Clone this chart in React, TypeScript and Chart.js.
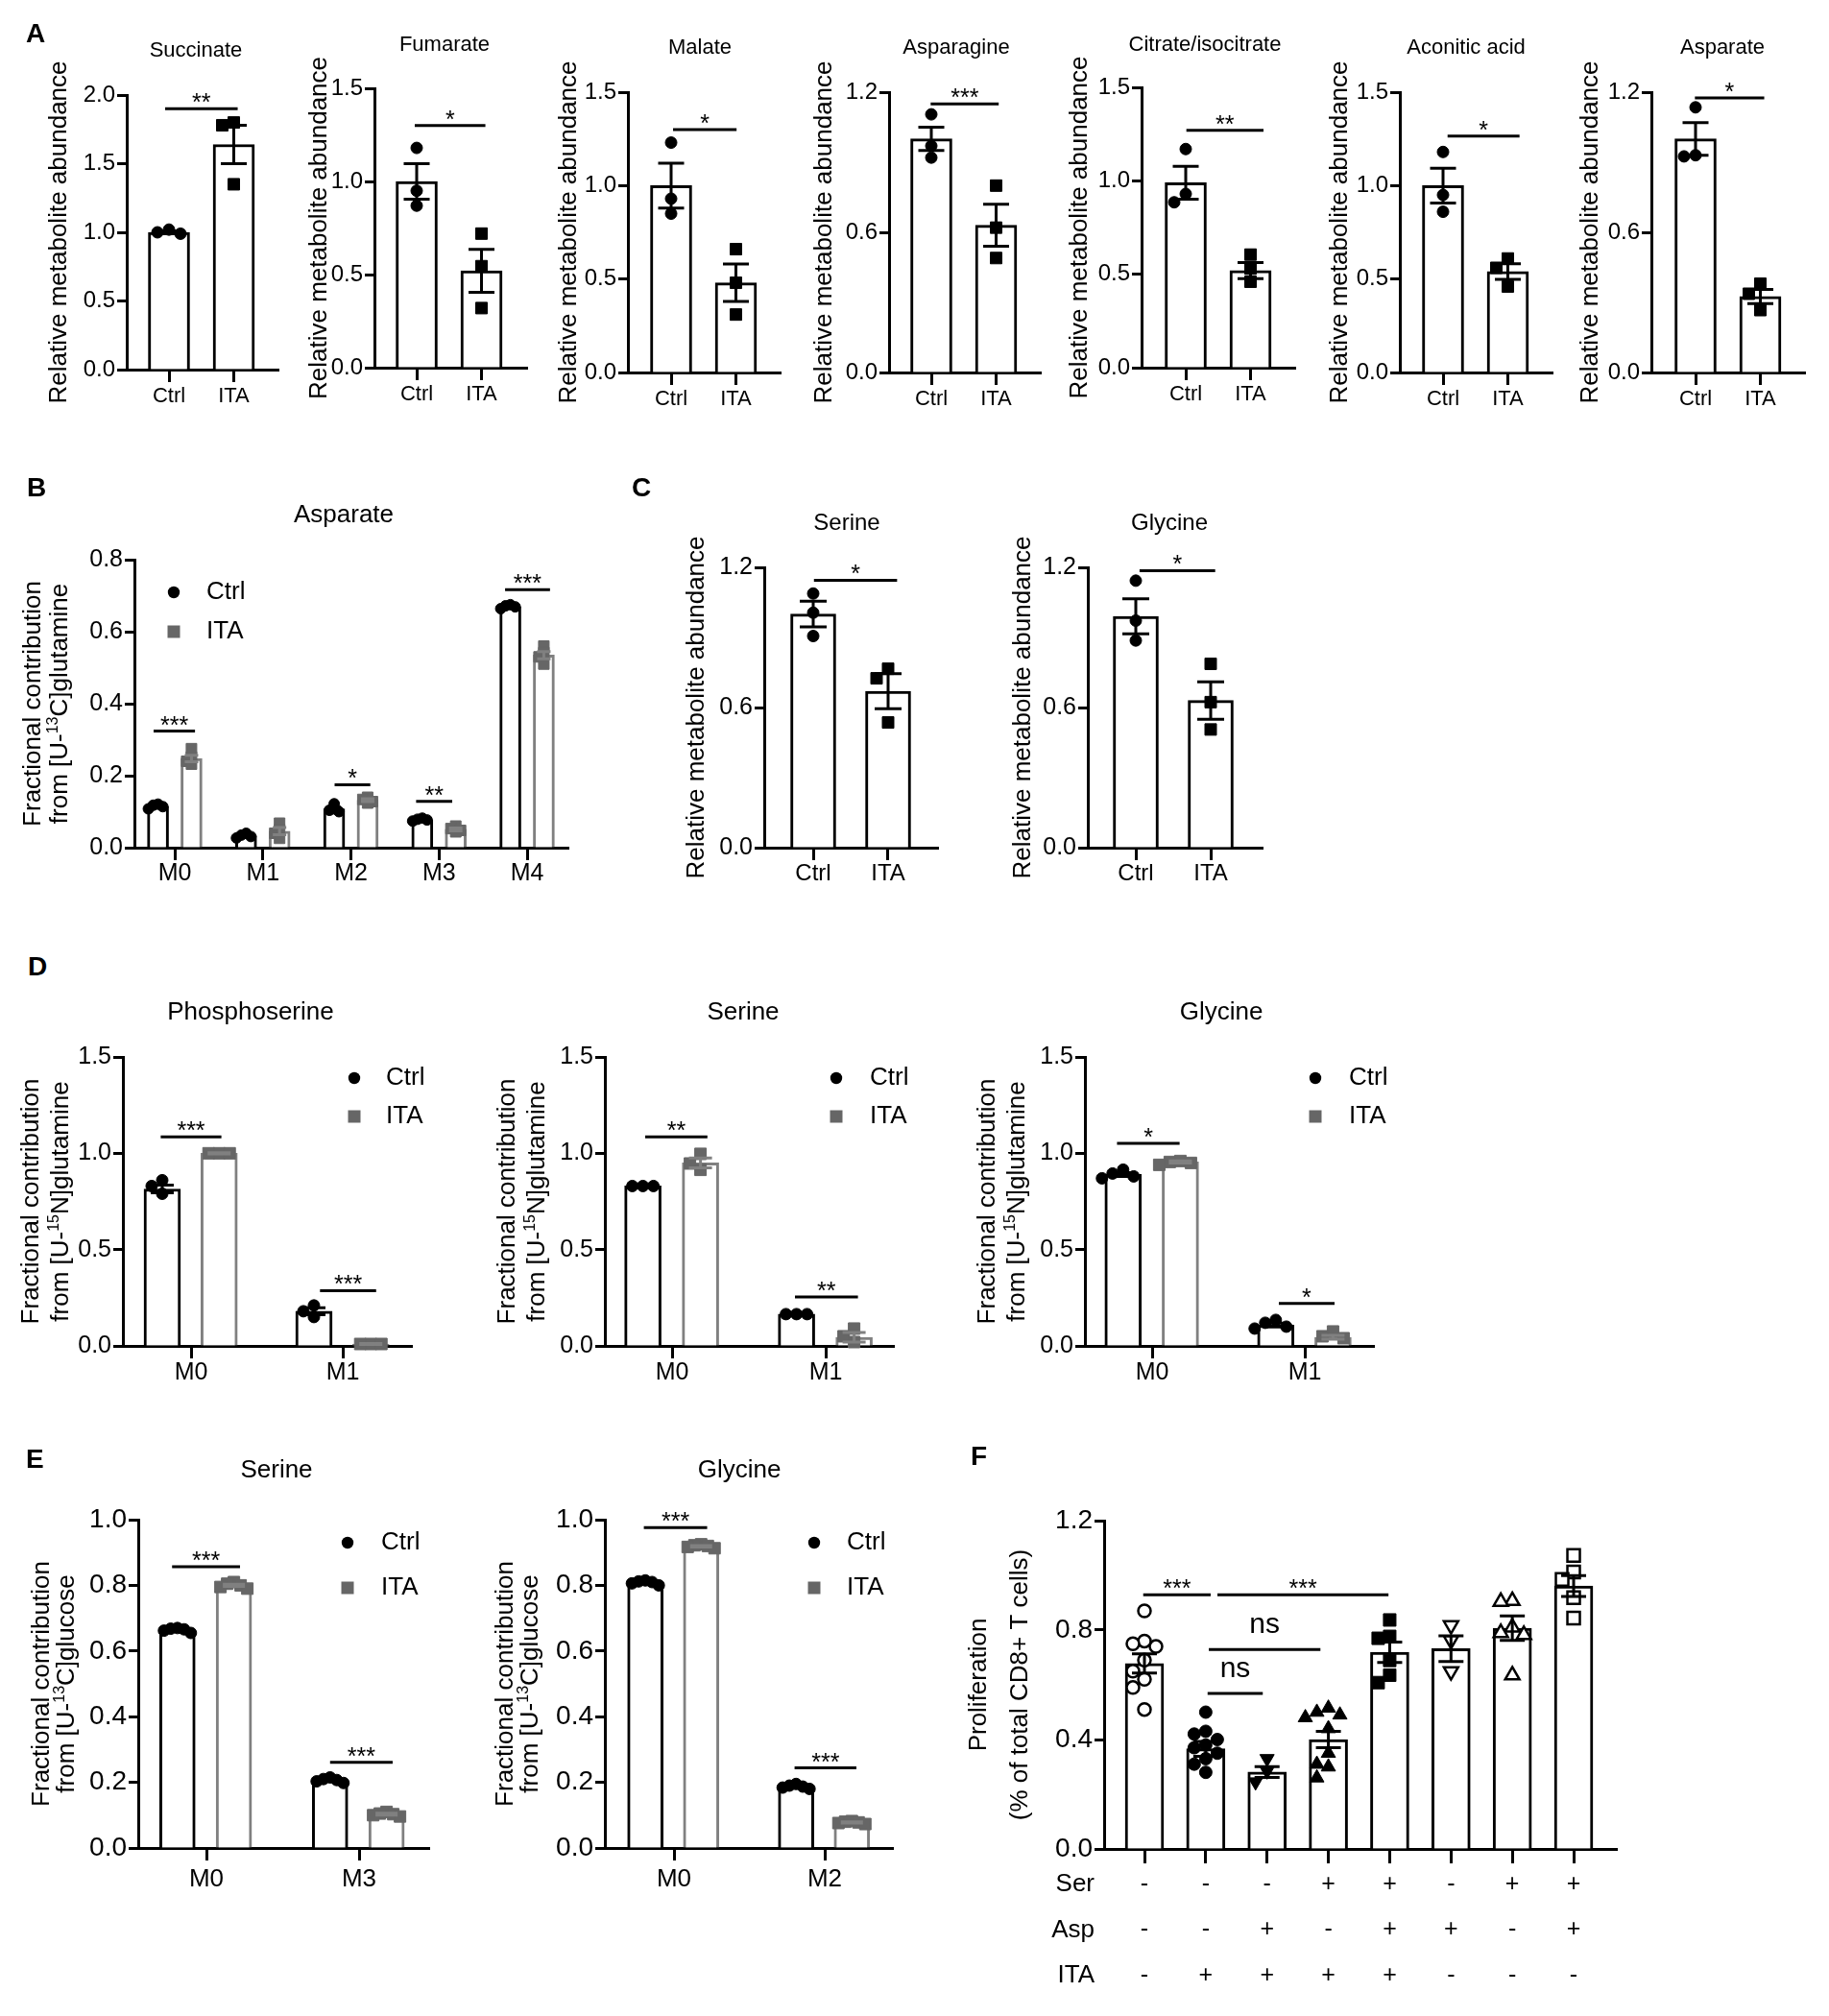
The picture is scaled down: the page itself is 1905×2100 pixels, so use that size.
import React, { useEffect, useRef } from 'react';
import { Chart, registerables } from 'chart.js';

Chart.register(...registerables);

const FONT = '"Liberation Sans", Arial, Helvetica, sans-serif';
Chart.defaults.font.family = FONT;
Chart.defaults.color = '#000000';

/* ============================ DATA ============================ */

const GROUPS = ['Ctrl', 'ITA'];

// ---- Panel A : relative metabolite abundance ----
const A_METABOLITES = ['Succinate', 'Fumarate', 'Malate', 'Asparagine', 'Citrate/isocitrate', 'Aconitic acid', 'Asparate'];
const A_Y_MAX = [2.0, 1.5, 1.5, 1.2, 1.5, 1.5, 1.2];
const A_Y_TICKS = [
  [0, 0.5, 1.0, 1.5, 2.0],
  [0, 0.5, 1.0, 1.5],
  [0, 0.5, 1.0, 1.5],
  [0, 0.6, 1.2],
  [0, 0.5, 1.0, 1.5],
  [0, 0.5, 1.0, 1.5],
  [0, 0.6, 1.2],
];
const A_CTRL_MEAN = [1.0, 1.0, 1.0, 1.0, 0.99, 1.0, 1.0];
const A_CTRL_SEM = [0.01, 0.095, 0.12, 0.05, 0.088, 0.093, 0.07];
const A_ITA_MEAN = [1.64, 0.52, 0.48, 0.63, 0.52, 0.54, 0.325];
const A_ITA_SEM = [0.14, 0.115, 0.1, 0.09, 0.043, 0.042, 0.03];
const A_CTRL_POINTS = [
  [1.02, 1.0, 0.99],
  [1.18, 0.95, 0.87],
  [1.23, 0.93, 0.85],
  [1.105, 0.97, 0.92],
  [1.17, 0.93, 0.885],
  [1.18, 0.95, 0.86],
  [1.135, 0.93, 0.925],
];
const A_ITA_POINTS = [
  [1.8, 1.78, 1.35],
  [0.72, 0.545, 0.32],
  [0.66, 0.48, 0.31],
  [0.8, 0.62, 0.49],
  [0.605, 0.53, 0.46],
  [0.61, 0.56, 0.46],
  [0.38, 0.337, 0.267],
];
const A_SIG_TEXT = ['**', '*', '*', '***', '**', '*', '*'];
const A_SIG_Y = [1.9, 1.3, 1.3, 1.15, 1.27, 1.265, 1.175];

// ---- Panel B : Asparate isotopologues from [U-13C]glutamine ----
const B_TITLE = 'Asparate';
const B_ISOTOPOLOGUES = ['M0', 'M1', 'M2', 'M3', 'M4'];
const B_Y_TICKS = [0, 0.2, 0.4, 0.6, 0.8];
const B_CTRL_MEAN = [0.115, 0.033, 0.108, 0.078, 0.67];
const B_CTRL_SEM = [0.003, 0.003, 0.005, 0.002, 0.003];
const B_ITA_MEAN = [0.248, 0.046, 0.132, 0.051, 0.535];
const B_ITA_SEM = [0.009, 0.01, 0.004, 0.004, 0.01];
const B_CTRL_POINTS = [
  [0.121, 0.118, 0.114, 0.108],
  [0.04, 0.035, 0.031, 0.027],
  [0.122, 0.108, 0.104, 0.1],
  [0.082, 0.079, 0.077, 0.074],
  [0.675, 0.672, 0.669, 0.664],
];
const B_ITA_POINTS = [
  [0.275, 0.252, 0.24, 0.232],
  [0.068, 0.05, 0.04, 0.026],
  [0.14, 0.134, 0.128, 0.124],
  [0.06, 0.053, 0.048, 0.044],
  [0.56, 0.542, 0.53, 0.51],
];
const B_SIG_AT = [0, 2, 3, 4];
const B_SIG_TEXT = ['***', '*', '**', '***'];
const B_SIG_Y = [0.324, 0.175, 0.129, 0.717];

// ---- Panel C : relative abundance ----
const C_METABOLITES = ['Serine', 'Glycine'];
const C_Y_TICKS = [0, 0.6, 1.2];
const C_CTRL_MEAN = [1.0, 0.99];
const C_CTRL_SEM = [0.055, 0.075];
const C_ITA_MEAN = [0.67, 0.63];
const C_ITA_SEM = [0.075, 0.08];
const C_CTRL_POINTS = [[1.088, 1.006, 0.906], [1.143, 0.972, 0.887]];
const C_ITA_POINTS = [[0.766, 0.725, 0.536], [0.787, 0.623, 0.506]];
const C_SIG_TEXT = ['*', '*'];
const C_SIG_Y = [1.145, 1.186];

// ---- Panel D : [U-15N]glutamine tracing ----
const D_METABOLITES = ['Phosphoserine', 'Serine', 'Glycine'];
const D_ISOTOPOLOGUES = ['M0', 'M1'];
const D_Y_TICKS = [0, 0.5, 1.0, 1.5];
const D_CTRL_MEAN = [[0.815, 0.18], [0.83, 0.165], [0.89, 0.108]];
const D_CTRL_SEM = [[0.02, 0.018], [0.003, 0.003], [0.01, 0.01]];
const D_ITA_MEAN = [[1.0, 0.01], [0.95, 0.045], [0.955, 0.045]];
const D_ITA_SEM = [[0.003, 0.002], [0.025, 0.025], [0.006, 0.01]];
const D_CTRL_POINTS = [
  [[0.86, 0.83, 0.79], [0.21, 0.18, 0.15]],
  [[0.83, 0.83, 0.83], [0.165, 0.165, 0.165]],
  [[0.915, 0.895, 0.88, 0.87], [0.135, 0.12, 0.1, 0.09]],
];
const D_ITA_POINTS = [
  [[1.0, 1.0, 1.0], [0.01, 0.01, 0.01]],
  [[0.997, 0.947, 0.914], [0.09, 0.05, 0.02]],
  [[0.96, 0.955, 0.95, 0.94], [0.075, 0.05, 0.04]],
];
const D_SIG_TEXT = [['***', '***'], ['**', '**'], ['*', '*']];
const D_SIG_Y = [[1.085, 0.287], [1.085, 0.254], [1.051, 0.22]];

// ---- Panel E : [U-13C]glucose tracing ----
const E_METABOLITES = ['Serine', 'Glycine'];
const E_ISOTOPOLOGUES = [['M0', 'M3'], ['M0', 'M2']];
const E_Y_TICKS = [0, 0.2, 0.4, 0.6, 0.8, 1.0];
const E_CTRL_MEAN = [[0.664, 0.207], [0.808, 0.187]];
const E_CTRL_SEM = [[0.003, 0.003], [0.003, 0.003]];
const E_ITA_MEAN = [[0.8, 0.103], [0.919, 0.078]];
const E_ITA_SEM = [[0.003, 0.003], [0.002, 0.002]];
const E_CTRL_POINTS = [
  [[0.67, 0.668, 0.666, 0.662, 0.655], [0.215, 0.21, 0.207, 0.203, 0.198]],
  [[0.815, 0.812, 0.81, 0.806, 0.8], [0.195, 0.19, 0.187, 0.184, 0.18]],
];
const E_ITA_POINTS = [
  [[0.81, 0.805, 0.8, 0.795, 0.79], [0.11, 0.105, 0.103, 0.1, 0.096]],
  [[0.925, 0.922, 0.92, 0.917, 0.913], [0.082, 0.08, 0.078, 0.076, 0.073]],
];
const E_SIG_TEXT = [['***', '***'], ['***', '***']];
const E_SIG_Y = [[0.857, 0.261], [0.976, 0.244]];

// ---- Panel F : proliferation ----
const F_ROW_NAMES = ['Ser', 'Asp', 'ITA'];
const F_SER = ['-', '-', '-', '+', '+', '-', '+', '+'];
const F_ASP = ['-', '-', '+', '-', '+', '+', '-', '+'];
const F_ITA = ['-', '+', '+', '+', '+', '-', '-', '-'];
const F_Y_TICKS = [0, 0.4, 0.8, 1.2];
const F_MEAN = [0.678, 0.366, 0.281, 0.4, 0.719, 0.732, 0.807, 0.961];
const F_SEM = [0.035, 0.027, 0.02, 0.03, 0.037, 0.047, 0.045, 0.038];
const F_POINTS = [
  [0.87, 0.76, 0.75, 0.74, 0.69, 0.65, 0.62, 0.59, 0.51],
  [0.5, 0.43, 0.42, 0.4, 0.38, 0.37, 0.35, 0.33, 0.31, 0.28],
  [0.33, 0.285, 0.245],
  [0.515, 0.5, 0.49, 0.48, 0.44, 0.35, 0.31, 0.3, 0.26],
  [0.837, 0.777, 0.77, 0.689, 0.635, 0.608],
  [0.817, 0.763, 0.649],
  [0.907, 0.904, 0.81, 0.79, 0.783, 0.635],
  [1.073, 1.012, 0.985, 0.918, 0.844],
];
const F_SIG_TEXT = ['***', '***', 'ns', 'ns'];
const F_SIG_Y = [0.929, 0.929, 0.729, 0.568];

/* ======================= LAYOUT & STYLE ======================= */

const BLACK = '#000000';
const GREY_POINT = '#666666';
const GREY_BAR = '#808080';

const A_SPACING = 67.5;
const A_LAYOUT = [
  { axisX: 132, endX: 290, topY: 99, zeroY: 385, cat0X: 176, yTitleX: 62, titleX: 204, titleY: 53 },
  { axisX: 390, endX: 549, topY: 92, zeroY: 383, cat0X: 434, yTitleX: 333, titleX: 463, titleY: 47 },
  { axisX: 654, endX: 813, topY: 96, zeroY: 388, cat0X: 699, yTitleX: 593, titleX: 729, titleY: 50 },
  { axisX: 926, endX: 1084, topY: 96, zeroY: 388, cat0X: 970, yTitleX: 859, titleX: 996, titleY: 50 },
  { axisX: 1189, endX: 1349, topY: 91, zeroY: 383, cat0X: 1235, yTitleX: 1125, titleX: 1255, titleY: 47 },
  { axisX: 1458, endX: 1617, topY: 96, zeroY: 388, cat0X: 1503, yTitleX: 1396, titleX: 1527, titleY: 50 },
  { axisX: 1720, endX: 1880, topY: 96, zeroY: 388, cat0X: 1766, yTitleX: 1657, titleX: 1794, titleY: 50 },
];
const A_SIG_SPAN = [[-0.06, 1.06], [-0.03, 1.06], [0.03, 1.01], [-0.01, 1.04], [0.01, 1.2], [0.07, 1.18], [-0.01, 1.06]];

const B_LAYOUT = {
  axisX: 140, endX: 592, topY: 583, zeroY: 883, cat0X: 182, spacing: 91.75,
  yTitleX: 35, titleX: 358, titleY: 537, legendX: 181, legendTextX: 215, legendY: [617, 658],
};
const B_GROUP_OFFSET = [-0.19, 0.19];
const B_SIG_SPAN = [[-0.24, 0.23], [-0.185, 0.22], [-0.26, 0.15], [-0.25, 0.26]];

const C_LAYOUT = [
  { axisX: 796, endX: 977, cat0X: 847, yTitleX: 726, titleX: 882 },
  { axisX: 1133, endX: 1315, cat0X: 1183, yTitleX: 1066, titleX: 1218 },
];
const C_ROW = { topY: 591, zeroY: 883, spacing: 78, titleY: 545 };
const C_SIG_SPAN = [[0.01, 1.12], [0.05, 1.06]];

const D_LAYOUT = [
  { axisX: 128, endX: 429, cat0X: 199, spacing: 158, yTitleX: 33, titleX: 261, legendX: 369, legendTextX: 402 },
  { axisX: 630, endX: 931, cat0X: 700, spacing: 160, yTitleX: 529, titleX: 774, legendX: 871, legendTextX: 906 },
  { axisX: 1130, endX: 1431, cat0X: 1200, spacing: 159, yTitleX: 1029, titleX: 1272, legendX: 1370, legendTextX: 1405 },
];
const D_ROW = { topY: 1101, zeroY: 1402, titleY: 1055, legendY: [1123, 1163] };
const D_GROUP_OFFSET = [-0.19, 0.185];
const D_SIG_SPAN = [
  [[-0.2, 0.2], [0.85, 1.22]],
  [[-0.175, 0.23], [0.8, 1.21]],
  [[-0.23, 0.18], [0.83, 1.195]],
];

const E_LAYOUT = [
  { axisX: 144, endX: 447, cat0X: 215, spacing: 159, yTitleX: 44, titleX: 288, legendX: 362, legendTextX: 397 },
  { axisX: 630, endX: 930, cat0X: 702, spacing: 157, yTitleX: 527, titleX: 770, legendX: 848, legendTextX: 882 },
];
const E_ROW = { topY: 1583, zeroY: 1925, titleY: 1532, legendY: [1607, 1654] };
const E_GROUP_OFFSET = [-0.19, 0.18];
const E_SIG_SPAN = [
  [[-0.225, 0.22], [0.81, 1.22]],
  [[-0.2, 0.22], [0.8, 1.21]],
];

const F_LAYOUT = { axisX: 1150, endX: 1684, topY: 1584, zeroY: 1926, cat0X: 1192, spacing: 63.86, yTitleX: 1020, rowLabelX: 1140 };
const F_MARKERS = ['circle', 'circle', 'triangleDown', 'triangle', 'rect', 'triangleDown', 'triangle', 'rect'];
const F_FILLED = [false, true, true, true, true, false, false, false];
const F_SIG_SPAN = [[-0.02, 1.08], [1.19, 3.98], [1.05, 2.87], [1.03, 1.93]];

const LETTERS = [
  { t: 'A', x: 27, y: 21 },
  { t: 'B', x: 28, y: 494 },
  { t: 'C', x: 658, y: 494 },
  { t: 'D', x: 29, y: 993 },
  { t: 'E', x: 27, y: 1506 },
  { t: 'F', x: 1011, y: 1503 },
];

/* ============================ TYPES ============================ */

type MarkerKind = 'circle' | 'rect' | 'triangle' | 'triangleDown';
interface SeriesSpec {
  xs: number[]; means: number[]; sems: number[]; points: number[][];
  marker: MarkerKind; filled: boolean; pointColor: string; barColor: string;
}
interface SigSpec { from: number; to: number; y: number; text: string }
interface LegendSpec { marker: MarkerKind; color: string; label: string; x: number; y: number; tx: number }
interface PlotSpec {
  id: string;
  axisX: number; endX: number; topY: number; zeroY: number; cat0X: number; spacing: number;
  yMax: number; yTicks: number[]; yTickSize: number;
  xTicks: number[]; xLabels: (string | string[])[]; xLabelSize: number; xLabelLH: number; xLabelPad: number; xTickLen: number; xAxisH: number;
  barPx: number; capPx: number; markerPx: number; swarmStep: number;
  series: SeriesSpec[]; sig: SigSpec[];
  title?: { text: string; x: number; y: number; size: number };
  yTitle: { lines: string[]; x: number; size: number; lh: number };
  legend?: LegendSpec[];
  rowLabels?: string[]; rowLabelX?: number;
}

/* ========================= PLOT BUILDERS ========================= */

function buildA(): PlotSpec[] {
  return A_METABOLITES.map((name, i) => {
    const L = A_LAYOUT[i];
    return {
      id: 'A' + i,
      axisX: L.axisX, endX: L.endX, topY: L.topY, zeroY: L.zeroY, cat0X: L.cat0X, spacing: A_SPACING,
      yMax: A_Y_MAX[i], yTicks: A_Y_TICKS[i], yTickSize: 24,
      xTicks: [0, 1], xLabels: GROUPS, xLabelSize: 22, xLabelLH: 1.2, xLabelPad: 2, xTickLen: 13, xAxisH: 45,
      barPx: 43, capPx: 27, markerPx: 12, swarmStep: 12,
      series: [
        { xs: [0], means: [A_CTRL_MEAN[i]], sems: [A_CTRL_SEM[i]], points: [A_CTRL_POINTS[i]], marker: 'circle', filled: true, pointColor: BLACK, barColor: BLACK },
        { xs: [1], means: [A_ITA_MEAN[i]], sems: [A_ITA_SEM[i]], points: [A_ITA_POINTS[i]], marker: 'rect', filled: true, pointColor: BLACK, barColor: BLACK },
      ],
      sig: [{ from: A_SIG_SPAN[i][0], to: A_SIG_SPAN[i][1], y: A_SIG_Y[i], text: A_SIG_TEXT[i] }],
      title: { text: name, x: L.titleX, y: L.titleY, size: 22 },
      yTitle: { lines: ['Relative metabolite abundance'], x: L.yTitleX, size: 26, lh: 30 },
    };
  });
}

function buildB(): PlotSpec {
  const L = B_LAYOUT;
  const idx = B_ISOTOPOLOGUES.map((_, k) => k);
  return {
    id: 'B',
    axisX: L.axisX, endX: L.endX, topY: L.topY, zeroY: L.zeroY, cat0X: L.cat0X, spacing: L.spacing,
    yMax: 0.8, yTicks: B_Y_TICKS, yTickSize: 25,
    xTicks: idx, xLabels: B_ISOTOPOLOGUES, xLabelSize: 25, xLabelLH: 1.2, xLabelPad: -1, xTickLen: 13, xAxisH: 50,
    barPx: 22, capPx: 14, markerPx: 11, swarmStep: 5,
    series: [
      { xs: idx.map((k) => k + B_GROUP_OFFSET[0]), means: B_CTRL_MEAN, sems: B_CTRL_SEM, points: B_CTRL_POINTS, marker: 'circle', filled: true, pointColor: BLACK, barColor: BLACK },
      { xs: idx.map((k) => k + B_GROUP_OFFSET[1]), means: B_ITA_MEAN, sems: B_ITA_SEM, points: B_ITA_POINTS, marker: 'rect', filled: true, pointColor: GREY_POINT, barColor: GREY_BAR },
    ],
    sig: B_SIG_AT.map((k, j) => ({ from: k + B_SIG_SPAN[j][0], to: k + B_SIG_SPAN[j][1], y: B_SIG_Y[j], text: B_SIG_TEXT[j] })),
    title: { text: B_TITLE, x: L.titleX, y: L.titleY, size: 26 },
    yTitle: { lines: ['Fractional contribution', 'from [U-^{13}C]glutamine'], x: L.yTitleX, size: 26, lh: 28 },
    legend: [
      { marker: 'circle', color: BLACK, label: GROUPS[0], x: L.legendX, y: L.legendY[0], tx: L.legendTextX },
      { marker: 'rect', color: GREY_POINT, label: GROUPS[1], x: L.legendX, y: L.legendY[1], tx: L.legendTextX },
    ],
  };
}

function buildC(): PlotSpec[] {
  return C_METABOLITES.map((name, i) => {
    const L = C_LAYOUT[i];
    return {
      id: 'C' + i,
      axisX: L.axisX, endX: L.endX, topY: C_ROW.topY, zeroY: C_ROW.zeroY, cat0X: L.cat0X, spacing: C_ROW.spacing,
      yMax: 1.2, yTicks: C_Y_TICKS, yTickSize: 25,
      xTicks: [0, 1], xLabels: GROUPS, xLabelSize: 24, xLabelLH: 1.2, xLabelPad: 0, xTickLen: 13, xAxisH: 50,
      barPx: 47, capPx: 28, markerPx: 12, swarmStep: 12,
      series: [
        { xs: [0], means: [C_CTRL_MEAN[i]], sems: [C_CTRL_SEM[i]], points: [C_CTRL_POINTS[i]], marker: 'circle', filled: true, pointColor: BLACK, barColor: BLACK },
        { xs: [1], means: [C_ITA_MEAN[i]], sems: [C_ITA_SEM[i]], points: [C_ITA_POINTS[i]], marker: 'rect', filled: true, pointColor: BLACK, barColor: BLACK },
      ],
      sig: [{ from: C_SIG_SPAN[i][0], to: C_SIG_SPAN[i][1], y: C_SIG_Y[i], text: C_SIG_TEXT[i] }],
      title: { text: name, x: L.titleX, y: C_ROW.titleY, size: 24 },
      yTitle: { lines: ['Relative metabolite abundance'], x: L.yTitleX, size: 26, lh: 30 },
    };
  });
}

function buildD(): PlotSpec[] {
  return D_METABOLITES.map((name, i) => {
    const L = D_LAYOUT[i];
    return {
      id: 'D' + i,
      axisX: L.axisX, endX: L.endX, topY: D_ROW.topY, zeroY: D_ROW.zeroY, cat0X: L.cat0X, spacing: L.spacing,
      yMax: 1.5, yTicks: D_Y_TICKS, yTickSize: 25,
      xTicks: [0, 1], xLabels: D_ISOTOPOLOGUES, xLabelSize: 25, xLabelLH: 1.2, xLabelPad: 0, xTickLen: 13, xAxisH: 50,
      barPx: 38, capPx: 24, markerPx: 12, swarmStep: 11,
      series: [
        { xs: [0, 1].map((k) => k + D_GROUP_OFFSET[0]), means: D_CTRL_MEAN[i], sems: D_CTRL_SEM[i], points: D_CTRL_POINTS[i], marker: 'circle', filled: true, pointColor: BLACK, barColor: BLACK },
        { xs: [0, 1].map((k) => k + D_GROUP_OFFSET[1]), means: D_ITA_MEAN[i], sems: D_ITA_SEM[i], points: D_ITA_POINTS[i], marker: 'rect', filled: true, pointColor: GREY_POINT, barColor: GREY_BAR },
      ],
      sig: [0, 1].map((k) => ({ from: D_SIG_SPAN[i][k][0], to: D_SIG_SPAN[i][k][1], y: D_SIG_Y[i][k], text: D_SIG_TEXT[i][k] })),
      title: { text: name, x: L.titleX, y: D_ROW.titleY, size: 26 },
      yTitle: { lines: ['Fractional contribution', 'from [U-^{15}N]glutamine'], x: L.yTitleX, size: 26, lh: 31 },
      legend: [
        { marker: 'circle', color: BLACK, label: GROUPS[0], x: L.legendX, y: D_ROW.legendY[0], tx: L.legendTextX },
        { marker: 'rect', color: GREY_POINT, label: GROUPS[1], x: L.legendX, y: D_ROW.legendY[1], tx: L.legendTextX },
      ],
    };
  });
}

function buildE(): PlotSpec[] {
  return E_METABOLITES.map((name, i) => {
    const L = E_LAYOUT[i];
    return {
      id: 'E' + i,
      axisX: L.axisX, endX: L.endX, topY: E_ROW.topY, zeroY: E_ROW.zeroY, cat0X: L.cat0X, spacing: L.spacing,
      yMax: 1.0, yTicks: E_Y_TICKS, yTickSize: 28,
      xTicks: [0, 1], xLabels: E_ISOTOPOLOGUES[i], xLabelSize: 26, xLabelLH: 1.2, xLabelPad: 4, xTickLen: 13, xAxisH: 55,
      barPx: 37, capPx: 23, markerPx: 12, swarmStep: 7,
      series: [
        { xs: [0, 1].map((k) => k + E_GROUP_OFFSET[0]), means: E_CTRL_MEAN[i], sems: E_CTRL_SEM[i], points: E_CTRL_POINTS[i], marker: 'circle', filled: true, pointColor: BLACK, barColor: BLACK },
        { xs: [0, 1].map((k) => k + E_GROUP_OFFSET[1]), means: E_ITA_MEAN[i], sems: E_ITA_SEM[i], points: E_ITA_POINTS[i], marker: 'rect', filled: true, pointColor: GREY_POINT, barColor: GREY_BAR },
      ],
      sig: [0, 1].map((k) => ({ from: E_SIG_SPAN[i][k][0], to: E_SIG_SPAN[i][k][1], y: E_SIG_Y[i][k], text: E_SIG_TEXT[i][k] })),
      title: { text: name, x: L.titleX, y: E_ROW.titleY, size: 26 },
      yTitle: { lines: ['Fractional contribution', 'from [U-^{13}C]glucose'], x: L.yTitleX, size: 26, lh: 26 },
      legend: [
        { marker: 'circle', color: BLACK, label: GROUPS[0], x: L.legendX, y: E_ROW.legendY[0], tx: L.legendTextX },
        { marker: 'rect', color: GREY_POINT, label: GROUPS[1], x: L.legendX, y: E_ROW.legendY[1], tx: L.legendTextX },
      ],
    };
  });
}

function buildF(): PlotSpec {
  const L = F_LAYOUT;
  return {
    id: 'F',
    axisX: L.axisX, endX: L.endX, topY: L.topY, zeroY: L.zeroY, cat0X: L.cat0X, spacing: L.spacing,
    yMax: 1.2, yTicks: F_Y_TICKS, yTickSize: 28,
    xTicks: F_MEAN.map((_, k) => k), xLabels: F_SER.map((s, k) => [s, F_ASP[k], F_ITA[k]]),
    xLabelSize: 25, xLabelLH: 47.5 / 25, xLabelPad: -1.75, xTickLen: 15, xAxisH: 160,
    barPx: 40, capPx: 26, markerPx: 13, swarmStep: 12,
    series: F_MEAN.map((m, k) => ({
      xs: [k], means: [m], sems: [F_SEM[k]], points: [F_POINTS[k]],
      marker: F_MARKERS[k] as MarkerKind, filled: F_FILLED[k], pointColor: BLACK, barColor: BLACK,
    })),
    sig: F_SIG_TEXT.map((t, j) => ({ from: F_SIG_SPAN[j][0], to: F_SIG_SPAN[j][1], y: F_SIG_Y[j], text: t })),
    yTitle: { lines: ['Proliferation', '(% of total CD8+ T cells)'], x: L.yTitleX, size: 26, lh: 43 },
    rowLabels: F_ROW_NAMES, rowLabelX: L.rowLabelX,
  };
}

const PLOTS: PlotSpec[] = [...buildA(), buildB(), ...buildC(), ...buildD(), ...buildE(), buildF()];

/* ============================ HELPERS ============================ */

function swarm(values: number[], ppuY: number, step: number): number[] {
  const placed: { dx: number; y: number }[] = [];
  return values.map((v) => {
    const y = v * ppuY;
    let chosen = 0;
    for (let k = 0; k < 40; k++) {
      const cand = k === 0 ? 0 : (k % 2 === 1 ? -1 : 1) * Math.ceil(k / 2) * step;
      if (placed.every((q) => Math.hypot(q.dx - cand, q.y - y) >= step - 1e-6)) {
        chosen = cand;
        break;
      }
    }
    placed.push({ dx: chosen, y });
    return chosen;
  });
}

function markerStyle(m: MarkerKind, px: number) {
  switch (m) {
    case 'rect':
      return { pointStyle: 'rect', rotation: 0, radius: px * 0.7071 };
    case 'triangle':
      return { pointStyle: 'triangle', rotation: 0, radius: px * 0.66 };
    case 'triangleDown':
      return { pointStyle: 'triangle', rotation: 180, radius: px * 0.66 };
    default:
      return { pointStyle: 'circle', rotation: 0, radius: px / 2 };
  }
}

function drawRich(ctx: CanvasRenderingContext2D, text: string, size: number) {
  const segs: { t: string; sup: boolean }[] = [];
  const re = /\^\{([^}]*)\}/g;
  let last = 0;
  let m: RegExpExecArray | null;
  while ((m = re.exec(text))) {
    if (m.index > last) segs.push({ t: text.slice(last, m.index), sup: false });
    segs.push({ t: m[1], sup: true });
    last = re.lastIndex;
  }
  if (last < text.length) segs.push({ t: text.slice(last), sup: false });
  const fN = `${size}px ${FONT}`;
  const fS = `${Math.round(size * 0.62)}px ${FONT}`;
  let total = 0;
  segs.forEach((s) => {
    ctx.font = s.sup ? fS : fN;
    total += ctx.measureText(s.t).width;
  });
  let x = -total / 2;
  ctx.textAlign = 'left';
  ctx.textBaseline = 'middle';
  segs.forEach((s) => {
    ctx.font = s.sup ? fS : fN;
    ctx.fillText(s.t, x, s.sup ? -size * 0.3 : 0);
    x += ctx.measureText(s.t).width;
  });
}

function drawLegendMarker(ctx: CanvasRenderingContext2D, m: MarkerKind, x: number, y: number, color: string) {
  ctx.fillStyle = color;
  ctx.beginPath();
  if (m === 'rect') {
    ctx.rect(x - 6.5, y - 6.5, 13, 13);
  } else {
    ctx.arc(x, y, 6.2, 0, Math.PI * 2);
  }
  ctx.fill();
}

interface Geom { left: number; top: number; w: number; h: number; yScaleW: number; padTop: number; padRight: number }

function geom(p: PlotSpec): Geom {
  const left = Math.floor(p.yTitle.x - p.yTitle.size);
  const top = Math.floor(Math.min(p.topY - 60, p.title ? p.title.y - 30 : Infinity));
  const right = Math.min(Math.ceil(p.endX + 70), 1905);
  const bottom = Math.min(Math.ceil(p.zeroY + p.xAxisH + 8), 2100);
  return {
    left, top, w: right - left, h: bottom - top,
    yScaleW: p.axisX - left, padTop: p.topY - top, padRight: right - p.endX,
  };
}

interface ErrBar { x: number; mean: number; sem: number; color: string }

function makeDecor(p: PlotSpec, g: Geom, errs: ErrBar[]) {
  const cx = (x: number) => x - g.left;
  const cy = (y: number) => y - g.top;
  return {
    id: 'decor',
    afterDatasetsDraw(chart: any) {
      const ctx: CanvasRenderingContext2D = chart.ctx;
      const xs = chart.scales.x;
      const ys = chart.scales.y;
      ctx.save();
      ctx.lineWidth = 3;
      ctx.lineCap = 'butt';
      errs.forEach((e) => {
        const px = xs.getPixelForValue(e.x);
        const t = ys.getPixelForValue(e.mean + e.sem);
        const b = ys.getPixelForValue(e.mean - e.sem);
        const hw = p.capPx / 2;
        ctx.strokeStyle = e.color;
        ctx.beginPath();
        ctx.moveTo(px, t);
        ctx.lineTo(px, b);
        ctx.moveTo(px - hw, t);
        ctx.lineTo(px + hw, t);
        ctx.moveTo(px - hw, b);
        ctx.lineTo(px + hw, b);
        ctx.stroke();
      });
      p.sig.forEach((s) => {
        const x1 = xs.getPixelForValue(s.from);
        const x2 = xs.getPixelForValue(s.to);
        const y = ys.getPixelForValue(s.y);
        ctx.strokeStyle = BLACK;
        ctx.beginPath();
        ctx.moveTo(x1, y);
        ctx.lineTo(x2, y);
        ctx.stroke();
        const isNs = s.text === 'ns';
        ctx.font = `${isNs ? 30 : 25}px ${FONT}`;
        ctx.fillStyle = BLACK;
        ctx.textAlign = 'center';
        ctx.textBaseline = 'alphabetic';
        ctx.fillText(s.text, (x1 + x2) / 2, isNs ? y - 17 : y + 2);
      });
      ctx.restore();
    },
    afterDraw(chart: any) {
      const ctx: CanvasRenderingContext2D = chart.ctx;
      ctx.save();
      ctx.fillStyle = BLACK;
      if (p.title) {
        ctx.font = `${p.title.size}px ${FONT}`;
        ctx.textAlign = 'center';
        ctx.textBaseline = 'middle';
        ctx.fillText(p.title.text, cx(p.title.x), cy(p.title.y));
      }
      const midY = cy((p.topY + p.zeroY) / 2);
      p.yTitle.lines.forEach((line, i) => {
        ctx.save();
        ctx.translate(cx(p.yTitle.x + i * p.yTitle.lh), midY);
        ctx.rotate(-Math.PI / 2);
        ctx.fillStyle = BLACK;
        drawRich(ctx, line, p.yTitle.size);
        ctx.restore();
      });
      (p.legend || []).forEach((it) => {
        drawLegendMarker(ctx, it.marker, cx(it.x), cy(it.y), it.color);
        ctx.fillStyle = BLACK;
        ctx.font = `26px ${FONT}`;
        ctx.textAlign = 'left';
        ctx.textBaseline = 'middle';
        ctx.fillText(it.label, cx(it.tx), cy(it.y));
      });
      if (p.rowLabels && p.rowLabelX !== undefined) {
        const lh = p.xLabelSize * p.xLabelLH;
        const y0 = p.zeroY + p.xTickLen + p.xLabelPad + lh / 2;
        ctx.font = `26px ${FONT}`;
        ctx.textAlign = 'right';
        ctx.textBaseline = 'middle';
        p.rowLabels.forEach((t, k) => ctx.fillText(t, cx(p.rowLabelX as number), cy(y0 + k * lh)));
      }
      ctx.restore();
    },
  };
}

function makeConfig(p: PlotSpec, g: Geom) {
  const ppuY = (p.zeroY - p.topY) / p.yMax;
  const datasets: any[] = [];
  const errs: ErrBar[] = [];
  p.series.forEach((s) => {
    datasets.push({
      type: 'bar',
      data: s.xs.map((x, k) => ({ x, y: s.means[k] })),
      backgroundColor: '#ffffff',
      borderColor: s.barColor,
      borderWidth: 3,
      borderSkipped: 'start',
      barThickness: p.barPx,
      grouped: false,
      order: 3,
    });
    const pts: { x: number; y: number }[] = [];
    s.xs.forEach((x, k) => {
      const offs = swarm(s.points[k], ppuY, p.swarmStep);
      s.points[k].forEach((v, j) => pts.push({ x: x + offs[j] / p.spacing, y: v }));
      errs.push({ x, mean: s.means[k], sem: s.sems[k], color: s.barColor });
    });
    const st = markerStyle(s.marker, p.markerPx);
    const fill = s.filled ? s.pointColor : '#ffffff';
    datasets.push({
      type: 'scatter',
      data: pts,
      order: 1,
      clip: false,
      showLine: false,
      pointStyle: st.pointStyle,
      pointRotation: st.rotation,
      pointRadius: st.radius,
      pointHoverRadius: st.radius,
      pointBackgroundColor: fill,
      pointBorderColor: s.pointColor,
      pointBorderWidth: s.filled ? 1 : 2.5,
      backgroundColor: fill,
      borderColor: s.pointColor,
    });
  });

  return {
    type: 'bar',
    data: { datasets },
    plugins: [makeDecor(p, g, errs)],
    options: {
      responsive: false,
      maintainAspectRatio: false,
      animation: false,
      devicePixelRatio: 1,
      events: [],
      layout: { padding: { left: 0, top: g.padTop, right: g.padRight, bottom: 8 } },
      plugins: { legend: { display: false }, tooltip: { enabled: false }, title: { display: false } },
      scales: {
        x: {
          type: 'linear',
          position: 'bottom',
          offset: false,
          min: (p.axisX - p.cat0X) / p.spacing,
          max: (p.endX - p.cat0X) / p.spacing,
          afterBuildTicks: (sc: any) => {
            sc.ticks = p.xTicks.map((v) => ({ value: v }));
          },
          afterFit: (sc: any) => {
            sc.height = p.xAxisH;
          },
          ticks: {
            autoSkip: false,
            maxRotation: 0,
            minRotation: 0,
            padding: p.xLabelPad,
            color: BLACK,
            font: { family: FONT, size: p.xLabelSize, lineHeight: p.xLabelLH },
            callback: (_v: any, i: number) => p.xLabels[i],
          },
          grid: { display: true, offset: false, drawOnChartArea: false, drawTicks: true, tickLength: p.xTickLen, tickWidth: 3, tickColor: BLACK },
          border: { display: true, width: 3, color: BLACK },
        },
        y: {
          type: 'linear',
          position: 'left',
          min: 0,
          max: p.yMax,
          afterBuildTicks: (sc: any) => {
            sc.ticks = p.yTicks.map((v) => ({ value: v }));
          },
          afterFit: (sc: any) => {
            sc.width = g.yScaleW;
          },
          ticks: {
            autoSkip: false,
            padding: 2,
            color: BLACK,
            font: { family: FONT, size: p.yTickSize },
            callback: (v: any) => Number(v).toFixed(1),
          },
          grid: { display: true, drawOnChartArea: false, drawTicks: true, tickLength: 10, tickWidth: 3, tickColor: BLACK },
          border: { display: true, width: 3, color: BLACK },
        },
      },
    },
  };
}

/* ============================ COMPONENTS ============================ */

function PlotCanvas({ p }: { p: PlotSpec }) {
  const ref = useRef<HTMLCanvasElement | null>(null);
  const g = geom(p);
  useEffect(() => {
    if (!ref.current) return undefined;
    const chart = new Chart(ref.current, makeConfig(p, g) as any);
    return () => chart.destroy();
  }, []);
  return (
    <canvas
      ref={ref}
      width={g.w}
      height={g.h}
      style={{ position: 'absolute', left: g.left, top: g.top, width: g.w, height: g.h }}
    />
  );
}

export default function App() {
  return (
    <div
      style={{
        position: 'absolute', left: 0, top: 0, width: 1905, height: 2100,
        background: '#ffffff', overflow: 'hidden', fontFamily: FONT,
      }}
    >
      {PLOTS.map((p) => (
        <PlotCanvas key={p.id} p={p} />
      ))}
      {LETTERS.map((l) => (
        <div
          key={l.t}
          style={{
            position: 'absolute', left: l.x, top: l.y, fontSize: 28, lineHeight: '28px',
            fontWeight: 'bold', color: '#000', fontFamily: FONT,
          }}
        >
          {l.t}
        </div>
      ))}
    </div>
  );
}
